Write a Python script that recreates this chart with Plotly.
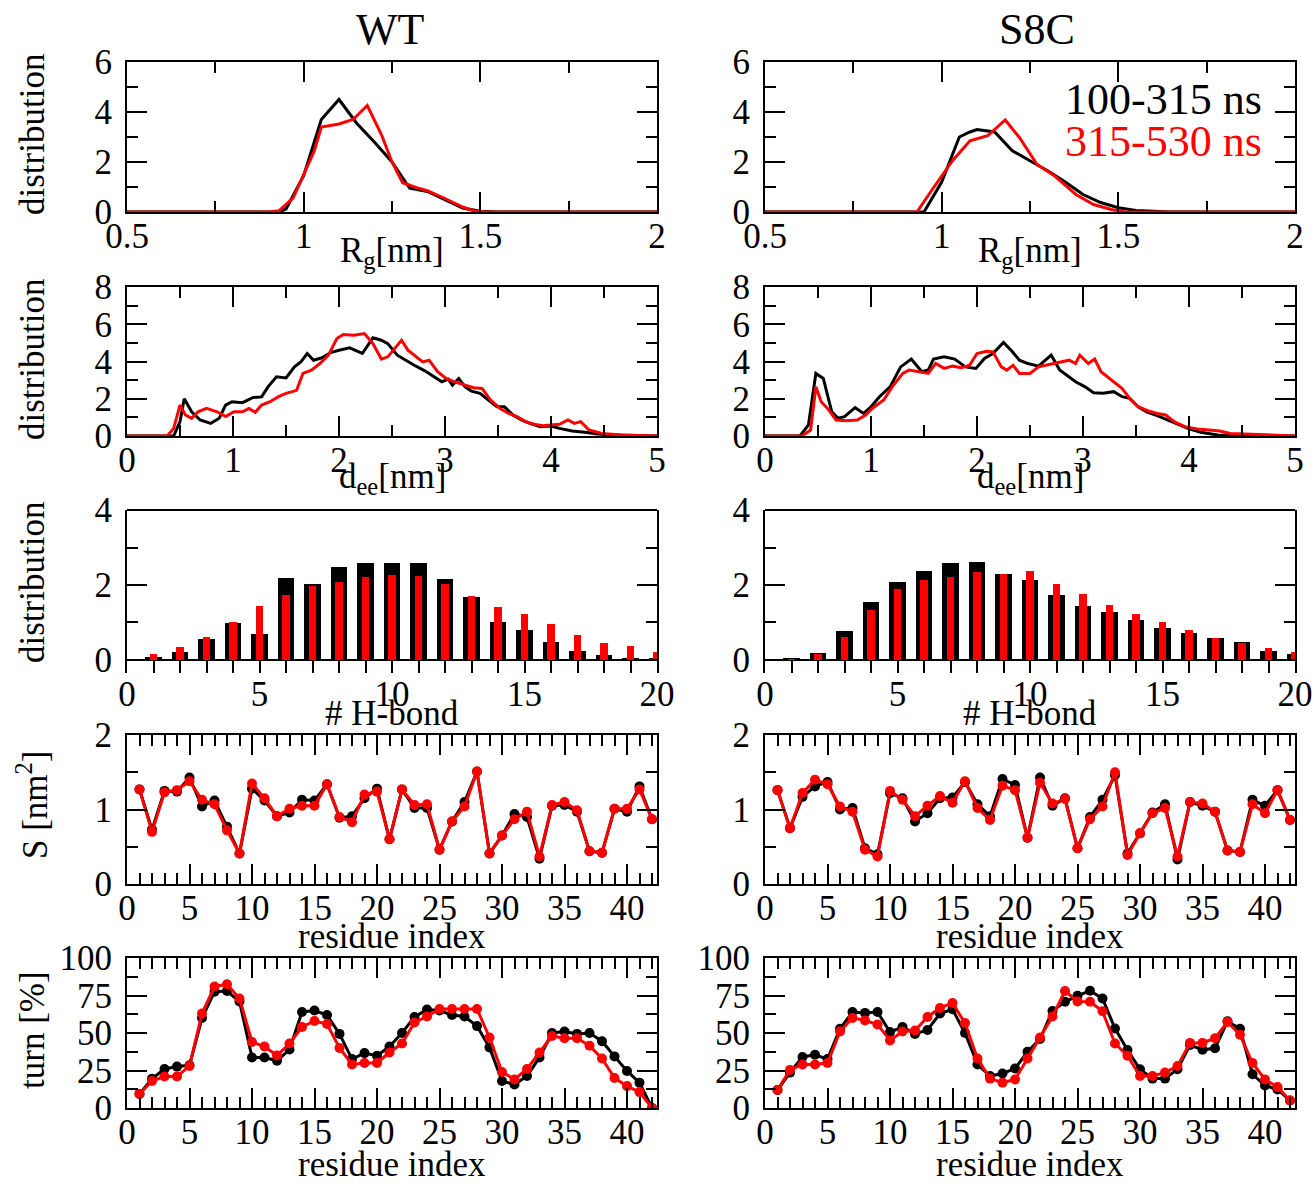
import plotly.graph_objects as go

W, H = 1314, 1184
FONT = "Liberation Serif"
BLACK = "#000000"
RED = "#ff0000"

# ---------------- data ----------------
# Rg distributions
rg_wt_x_a = [0.5, 0.93, 0.95, 1.0, 1.05, 1.10, 1.15, 1.20, 1.25, 1.30, 1.35, 1.40, 1.45, 1.50, 1.55, 2.0]
rg_wt_y_a = [0, 0, 0.12, 1.45, 3.7, 4.5, 3.55, 2.8, 2.0, 0.95, 0.82, 0.48, 0.16, 0.03, 0, 0]
rg_wt_x_b = [0.5, 0.90, 0.93, 0.97, 1.03, 1.05, 1.10, 1.14, 1.18, 1.22, 1.25, 1.28, 1.32, 1.35, 1.40, 1.45, 1.48, 1.52, 2.0]
rg_wt_y_b = [0, 0, 0.05, 0.56, 2.44, 3.4, 3.52, 3.7, 4.26, 3.1, 2.0, 1.17, 0.97, 0.85, 0.54, 0.2, 0.05, 0, 0]
rg_s8c_x_a = [0.5, 0.95, 1.0, 1.05, 1.08, 1.10, 1.15, 1.20, 1.25, 1.30, 1.35, 1.40, 1.45, 1.50, 1.55, 1.60, 1.65, 2.0]
rg_s8c_y_a = [0, 0, 1.2, 3.0, 3.2, 3.3, 3.2, 2.45, 2.05, 1.65, 1.2, 0.7, 0.38, 0.17, 0.06, 0.02, 0, 0]
rg_s8c_x_b = [0.5, 0.93, 0.97, 1.03, 1.08, 1.13, 1.18, 1.22, 1.27, 1.32, 1.38, 1.43, 1.48, 1.52, 2.0]
rg_s8c_y_b = [0, 0, 0.83, 2.04, 2.85, 3.05, 3.68, 2.98, 1.9, 1.44, 0.7, 0.3, 0.1, 0, 0]

# end-to-end distance distributions
dee_wt_x_a = [0, 0.44, 0.5, 0.54, 0.61, 0.69, 0.79, 0.87, 0.93, 0.99, 1.09, 1.19, 1.27, 1.33, 1.41, 1.5, 1.58, 1.64,
              1.7, 1.76, 1.84, 1.92, 2.0, 2.1, 2.22, 2.32, 2.4, 2.46, 2.55, 2.61, 2.71, 2.81, 2.91, 2.97, 3.03, 3.07,
              3.13, 3.19, 3.25, 3.33, 3.41, 3.49, 3.56, 3.64, 3.72, 3.8, 3.9, 4.0, 4.08, 4.2, 4.32, 4.44, 4.6, 5.0]
dee_wt_y_a = [0, 0, 0.77, 2.0, 1.3, 0.86, 0.68, 0.95, 1.66, 1.84, 1.79, 2.07, 2.1, 2.64, 3.18, 3.12, 3.71, 3.98,
              4.43, 4.07, 4.2, 4.48, 4.6, 4.73, 4.43, 5.27, 5.14, 4.96, 4.34, 4.13, 3.8, 3.5, 3.12, 2.91, 3.05, 2.73,
              3.09, 2.64, 2.41, 2.29, 1.93, 1.57, 1.57, 1.13, 0.86, 0.68, 0.5, 0.54, 0.41, 0.27, 0.2, 0.11, 0.05, 0]
dee_wt_x_b = [0, 0.38, 0.44, 0.5, 0.55, 0.61, 0.67, 0.75, 0.85, 0.93, 1.01, 1.09, 1.15, 1.21, 1.27, 1.35, 1.43, 1.5,
              1.56, 1.6, 1.66, 1.74, 1.82, 1.9, 1.98, 2.04, 2.14, 2.24, 2.32, 2.4, 2.46, 2.53, 2.59, 2.65, 2.73, 2.79,
              2.85, 2.93, 3.01, 3.09, 3.19, 3.27, 3.35, 3.43, 3.52, 3.6, 3.68, 3.76, 3.84, 3.92, 4.0, 4.08, 4.16, 4.22,
              4.28, 4.36, 4.48, 4.67, 5.0]
dee_wt_y_b = [0, 0, 0.41, 1.66, 1.13, 0.95, 1.3, 1.48, 1.3, 1.04, 1.3, 1.3, 1.48, 1.27, 1.66, 1.84, 2.11, 2.29,
              2.38, 2.45, 3.36, 3.54, 3.89, 4.34, 5.23, 5.45, 5.41, 5.5, 4.96, 4.13, 4.25, 4.73, 5.14, 4.61, 4.25, 3.98,
              4.07, 3.45, 3.09, 2.91, 2.73, 2.59, 2.55, 1.93, 1.48, 1.21, 1.04, 0.77, 0.63, 0.55, 0.59, 0.63, 0.86, 0.68,
              0.77, 0.32, 0.14, 0.05, 0]
dee_s8c_x_a = [0, 0.33, 0.41, 0.48, 0.55, 0.63, 0.69, 0.75, 0.85, 0.93, 1.0, 1.08, 1.18, 1.28, 1.38, 1.48, 1.54,
               1.59, 1.69, 1.79, 1.89, 1.99, 2.07, 2.15, 2.25, 2.33, 2.4, 2.48, 2.58, 2.7, 2.78, 2.86, 2.93, 3.02,
               3.1, 3.19, 3.29, 3.37, 3.44, 3.52, 3.6, 3.7, 3.8, 3.9, 4.0, 4.11, 4.27, 5.0]
dee_s8c_y_a = [0, 0, 0.59, 3.36, 3.09, 1.3, 0.95, 1.04, 1.52, 1.21, 1.57, 2.11, 2.64, 3.71, 4.13, 3.45, 3.54,
               4.13, 4.25, 4.13, 3.71, 3.63, 4.16, 4.43, 5.02, 4.55, 4.07, 3.89, 3.75, 4.34, 3.54, 3.18, 2.91, 2.64,
               2.32, 2.29, 2.38, 2.11, 2.02, 1.57, 1.3, 1.09, 0.86, 0.59, 0.38, 0.2, 0.05, 0]
dee_s8c_x_b = [0, 0.35, 0.43, 0.48, 0.53, 0.59, 0.67, 0.77, 0.87, 0.95, 1.02, 1.12, 1.2, 1.3, 1.36, 1.44, 1.54,
               1.61, 1.69, 1.77, 1.85, 1.93, 2.0, 2.09, 2.15, 2.23, 2.28, 2.34, 2.4, 2.5, 2.58, 2.68, 2.78, 2.87,
               2.93, 2.97, 3.05, 3.11, 3.17, 3.27, 3.37, 3.44, 3.52, 3.62, 3.7, 3.78, 3.86, 3.96, 4.08, 4.19, 4.29,
               4.39, 4.51, 4.7, 5.0]
dee_s8c_y_b = [0, 0, 0.32, 2.64, 1.84, 1.48, 0.86, 0.82, 0.86, 1.13, 1.52, 1.93, 2.64, 3.36, 3.54, 3.45, 3.36,
               3.89, 3.63, 3.75, 3.66, 3.8, 4.43, 4.55, 4.52, 3.71, 3.54, 3.8, 3.36, 3.36, 3.71, 3.84, 3.98, 4.07,
               3.89, 4.34, 3.89, 4.13, 3.45, 3.0, 2.55, 2.02, 1.57, 1.34, 1.21, 1.13, 0.77, 0.5, 0.38, 0.32, 0.27,
               0.14, 0.11, 0.05, 0]

# H-bond number distributions
hb_n = list(range(1, 21))
hb_wt_a = [0.07, 0.22, 0.56, 0.98, 0.69, 2.18, 2.02, 2.49, 2.6, 2.6, 2.58, 2.15, 1.67, 1.02, 0.8, 0.49, 0.25, 0.13, 0.06, 0.03]
hb_wt_b = [0.16, 0.34, 0.6, 1.02, 1.45, 1.73, 1.96, 2.09, 2.22, 2.28, 2.23, 2.02, 1.71, 1.42, 1.23, 0.95, 0.67, 0.44, 0.37, 0.22]
hb_s8c_a = [0.03, 0.18, 0.76, 1.54, 2.09, 2.37, 2.58, 2.62, 2.29, 2.12, 1.73, 1.44, 1.29, 1.07, 0.84, 0.73, 0.58, 0.47, 0.24, 0.16]
hb_s8c_b = [0.02, 0.16, 0.62, 1.32, 1.89, 2.13, 2.22, 2.34, 2.29, 2.38, 2.02, 1.75, 1.47, 1.22, 1.0, 0.8, 0.58, 0.44, 0.31, 0.2]

# SASA per residue
res = list(range(1, 43))
s_wt_a = [1.27, 0.73, 1.25, 1.24, 1.43, 1.04, 1.12, 0.77, 0.41, 1.28, 1.12, 0.91, 0.96, 1.13, 1.12, 1.34, 0.89, 0.91, 1.15, 1.28,
          0.60, 1.27, 1.02, 1.02, 0.46, 0.84, 1.10, 1.51, 0.41, 0.65, 0.94, 0.90, 0.34, 1.05, 1.06, 0.97, 0.44, 0.42, 1.01, 0.97,
          1.31, 0.87]
s_wt_b = [1.27, 0.70, 1.23, 1.26, 1.38, 1.13, 1.07, 0.72, 0.41, 1.35, 1.15, 0.91, 1.01, 1.05, 1.05, 1.34, 0.90, 0.83, 1.20, 1.24,
          0.60, 1.27, 1.06, 1.07, 0.46, 0.84, 1.04, 1.51, 0.41, 0.65, 0.87, 0.97, 0.37, 1.06, 1.10, 0.99, 0.44, 0.42, 1.01, 1.01,
          1.27, 0.87]
s_s8c_a = [1.26, 0.75, 1.17, 1.31, 1.37, 1.00, 1.02, 0.48, 0.40, 1.22, 1.15, 0.84, 0.95, 1.15, 1.16, 1.37, 1.07, 0.91, 1.41, 1.33,
           0.62, 1.43, 1.05, 1.15, 0.48, 0.90, 1.13, 1.46, 0.41, 0.68, 0.96, 1.07, 0.33, 1.10, 1.05, 0.97, 0.45, 0.43, 1.13, 1.05,
           1.26, 0.86]
s_s8c_b = [1.26, 0.75, 1.22, 1.40, 1.34, 1.04, 0.97, 0.46, 0.37, 1.25, 1.13, 0.91, 1.05, 1.18, 1.09, 1.38, 1.02, 0.86, 1.32, 1.26,
           0.62, 1.36, 1.08, 1.14, 0.48, 0.87, 1.04, 1.50, 0.39, 0.68, 0.95, 1.02, 0.37, 1.10, 1.08, 0.97, 0.45, 0.43, 1.07, 0.95,
           1.26, 0.86]

# turn propensity per residue
t_wt_a = [9.4, 19.5, 26, 27.6, 28.5, 60, 77.5, 78, 71, 33.7, 33.7, 31.5, 39, 64, 65, 62, 49.4, 32.6, 36.6, 34.8,
          41, 50, 60.7, 65.6, 65, 62, 61, 54.6, 40.4, 18, 15.7, 21.3, 33.7, 50, 51, 49.4, 50, 44.5, 34.4, 24.7,
          16.9, 0]
t_wt_b = [9.4, 18, 21, 21, 28, 63, 81, 82.5, 73, 44, 41, 35, 43, 54, 58, 56, 40, 29, 30, 30,
          37, 43, 57, 61, 66, 66, 66, 66, 47, 24, 19, 26, 37, 48, 46.5, 46.5, 41.5, 33, 20, 14.6,
          10.6, 0]
t_s8c_a = [12, 23.6, 34, 35.5, 32.6, 52.8, 64, 63.4, 64, 50.6, 54, 49.4, 52, 63, 65.8, 50, 29, 21.3, 23, 26.3,
           37.5, 46, 64.7, 70.8, 74.8, 78.2, 73, 53, 38.7, 25.8, 19.6, 19.6, 25.8, 42, 38.9, 39.8, 57.8, 52.8, 22.5, 15,
           12.4, 5]
t_s8c_b = [12, 25.4, 29, 29, 30, 51, 60, 58.4, 55.7, 45, 51, 51.7, 60.7, 66.7, 70, 56.6, 33, 19.6, 16.9, 19,
           33, 47, 61, 78, 71, 70.8, 64.5, 43, 34.8, 21.3, 21.3, 23.6, 28, 43.4, 43.4, 46.5, 57.3, 48.8, 30, 19,
           14, 5]

col_titles = ["WT", "S8C"]
legend_labels = ["100-315 ns", "315-530 ns"]

# ---------------- layout helpers ----------------
def px_x(p):
    return p / W

def px_y(p):
    return 1 - p / H

col_px = [(127, 657), (765, 1295)]
row_px = [(62, 212), (287, 436), (510, 673), (735, 884), (958, 1108)]

fig = go.Figure()

def ax_id(r, c):
    return (r - 1) * 2 + c

def xname(i):
    return "x" if i == 1 else f"x{i}"

def yname(i):
    return "y" if i == 1 else f"y{i}"

def add_line(r, c, x, y, color, markers=False):
    i = ax_id(r, c)
    fig.add_trace(go.Scatter(
        x=x, y=y, mode="lines+markers" if markers else "lines",
        line=dict(color=color, width=3),
        marker=dict(color=color, size=10, symbol="circle"),
        xaxis=xname(i), yaxis=yname(i), showlegend=False, cliponaxis=True))

def add_bars(r, c, x, y, color, width):
    i = ax_id(r, c)
    fig.add_trace(go.Bar(
        x=x, y=y, width=width, marker=dict(color=color, line=dict(width=0)),
        xaxis=xname(i), yaxis=yname(i), showlegend=False))

# row 1: Rg
add_line(1, 1, rg_wt_x_a, rg_wt_y_a, BLACK)
add_line(1, 1, rg_wt_x_b, rg_wt_y_b, RED)
add_line(1, 2, rg_s8c_x_a, rg_s8c_y_a, BLACK)
add_line(1, 2, rg_s8c_x_b, rg_s8c_y_b, RED)
# row 2: dee
add_line(2, 1, dee_wt_x_a, dee_wt_y_a, BLACK)
add_line(2, 1, dee_wt_x_b, dee_wt_y_b, RED)
add_line(2, 2, dee_s8c_x_a, dee_s8c_y_a, BLACK)
add_line(2, 2, dee_s8c_x_b, dee_s8c_y_b, RED)
# row 3: H-bonds
add_bars(3, 1, hb_n, hb_wt_a, BLACK, 0.62)
add_bars(3, 1, hb_n, hb_wt_b, RED, 0.28)
add_bars(3, 2, hb_n, hb_s8c_a, BLACK, 0.62)
add_bars(3, 2, hb_n, hb_s8c_b, RED, 0.28)
# row 4: S
add_line(4, 1, res, s_wt_a, BLACK, True)
add_line(4, 1, res, s_wt_b, RED, True)
add_line(4, 2, res, s_s8c_a, BLACK, True)
add_line(4, 2, res, s_s8c_b, RED, True)
# row 5: turn
add_line(5, 1, res, t_wt_a, BLACK, True)
add_line(5, 1, res, t_wt_b, RED, True)
add_line(5, 2, res, t_s8c_a, BLACK, True)
add_line(5, 2, res, t_s8c_b, RED, True)

row_x = [
    dict(range=[0.5, 2.0], dtick=0.5, minor=0.25),
    dict(range=[0, 5], dtick=1, minor=0.5),
    dict(range=[0, 20], dtick=5, minor=1),
    dict(range=[0, 42.4], dtick=5, minor=1),
    dict(range=[0, 42.4], dtick=5, minor=1),
]
row_y = [
    dict(range=[0, 6], dtick=2, minor=1),
    dict(range=[0, 8], dtick=2, minor=1),
    dict(range=[-0.347, 4], dtick=2, minor=1),
    dict(range=[0, 2], dtick=1, minor=0.5),
    dict(range=[0, 100], dtick=25, minor=12.5),
]

TICKFONT = dict(family=FONT, size=35, color=BLACK)
MAJ, MIN = 20, 11

layout = dict(
    width=W, height=H, margin=dict(l=0, r=0, t=0, b=0, pad=0, autoexpand=False),
    autosize=False,
    paper_bgcolor="white", plot_bgcolor="white",
    barmode="overlay", bargap=0, showlegend=False,
    font=dict(family=FONT, color=BLACK),
)

shapes = []
for r in range(1, 6):
    for c in (1, 2):
        i = ax_id(r, c)
        xr = row_x[r - 1]
        yr = row_y[r - 1]
        xdom = [px_x(col_px[c - 1][0]), px_x(col_px[c - 1][1])]
        ydom = [px_y(row_px[r - 1][1]), px_y(row_px[r - 1][0])]
        xkey = "xaxis" if i == 1 else f"xaxis{i}"
        ykey = "yaxis" if i == 1 else f"yaxis{i}"
        if r == 3:
            xa = dict(
                domain=xdom, anchor=yname(i), range=xr["range"],
                showline=False, showgrid=False, zeroline=False,
                tickmode="array", tickvals=list(range(0, 21)),
                ticktext=[str(v) if v % 5 == 0 else "" for v in range(0, 21)],
                ticks="inside", ticklen=13, tickwidth=2, tickcolor=BLACK,
                tickfont=TICKFONT, ticklabelstandoff=-3, automargin=False,
            )
            ya = dict(
                domain=ydom, anchor=xname(i), range=yr["range"],
                showline=True, linecolor=BLACK, linewidth=2, mirror="allticks",
                showgrid=False, zeroline=True, zerolinecolor=BLACK, zerolinewidth=2,
                tickmode="linear", tick0=0, dtick=yr["dtick"],
                ticks="inside", ticklen=MAJ, tickwidth=2, tickcolor=BLACK,
                minor=dict(dtick=yr["minor"], tick0=0, ticks="inside", ticklen=MIN, tickwidth=2, tickcolor=BLACK),
                tickfont=TICKFONT, ticklabelstandoff=6, automargin=False,
            )
            shapes.append(dict(type="line", xref=f"{xname(i)} domain", yref=f"{yname(i)} domain",
                               x0=0, x1=1, y0=1, y1=1, line=dict(color=BLACK, width=2)))
        else:
            xa = dict(
                domain=xdom, anchor=yname(i), range=xr["range"],
                showline=True, linecolor=BLACK, linewidth=2, mirror="allticks",
                showgrid=False, zeroline=False,
                tickmode="linear", tick0=0, dtick=xr["dtick"],
                ticks="inside", ticklen=MAJ, tickwidth=2, tickcolor=BLACK,
                minor=dict(dtick=xr["minor"], tick0=0, ticks="inside", ticklen=MIN, tickwidth=2, tickcolor=BLACK),
                tickfont=TICKFONT, ticklabelstandoff=-8, automargin=False,
            )
            ya = dict(
                domain=ydom, anchor=xname(i), range=yr["range"],
                showline=True, linecolor=BLACK, linewidth=2, mirror="allticks",
                showgrid=False, zeroline=False,
                tickmode="linear", tick0=0, dtick=yr["dtick"],
                ticks="inside", ticklen=MAJ, tickwidth=2, tickcolor=BLACK,
                minor=dict(dtick=yr["minor"], tick0=0, ticks="inside", ticklen=MIN, tickwidth=2, tickcolor=BLACK),
                tickfont=TICKFONT, ticklabelstandoff=6, automargin=False,
            )
        layout[xkey] = xa
        layout[ykey] = ya

layout["shapes"] = shapes

ann = []
def text(x, y, s, size=35, color=BLACK, angle=0, xanchor="center", yanchor="middle"):
    ann.append(dict(x=px_x(x), y=px_y(y), xref="paper", yref="paper", text=s, showarrow=False,
                    font=dict(family=FONT, size=size, color=color), textangle=angle,
                    xanchor=xanchor, yanchor=yanchor))

# column titles
text(390, 30, col_titles[0], size=44)
text(1037, 30, col_titles[1], size=44)
# legend
text(1264, 100, legend_labels[0], size=44, color=BLACK, xanchor="right")
text(1264, 141, legend_labels[1], size=44, color=RED, xanchor="right")

# x-axis titles
xtitles = [(252, "R<sub>g</sub>[nm]"), (478, "d<sub>ee</sub>[nm]"), (713, "# H-bond"),
           (936, "residue index"), (1164, "residue index")]
for y, s in xtitles:
    text(392, y, s)
    text(1030, y, s)

# y-axis titles
text(32, 135, "distribution", angle=-90)
text(32, 360, "distribution", angle=-90)
text(32, 583, "distribution", angle=-90)
text(32, 805, "S [nm<sup>2</sup>]", angle=-90)
text(32, 1030, "turn [%]", angle=-90)

layout["annotations"] = ann
fig.update_layout(**layout)
fig.write_html("out.html")
